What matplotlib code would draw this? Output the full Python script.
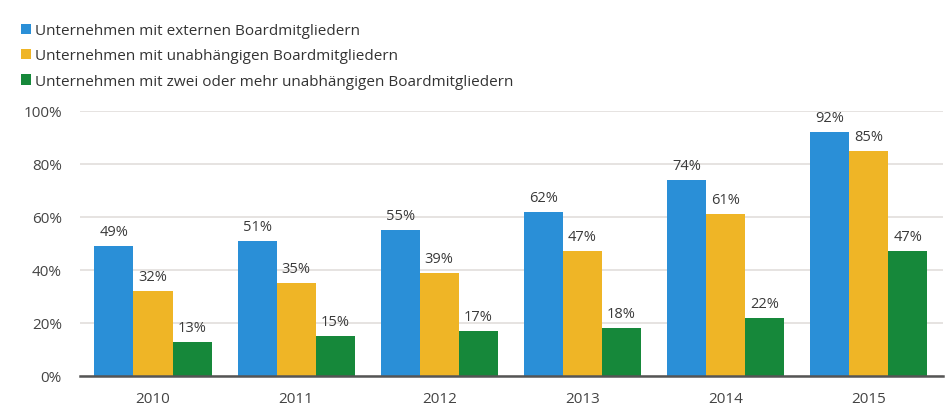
import matplotlib
matplotlib.use('Agg')

import matplotlib.pyplot as plt
import numpy as np

# ---------- DATA ----------
years = ["2010", "2011", "2012", "2013", "2014", "2015"]
extern = [49, 51, 55, 62, 74, 92]
unabh = [32, 35, 39, 47, 61, 85]
zwei_unabh = [13, 15, 17, 18, 22, 47]
series_labels = [
    "Unternehmen mit externen Boardmitgliedern",
    "Unternehmen mit unabhängigen Boardmitgliedern",
    "Unternehmen mit zwei oder mehr unabhängigen Boardmitgliedern",
]

colors = ["#2a8fd7", "#efb526", "#16883a"]

plt.rcParams['font.family'] = ['Open Sans', 'DejaVu Sans']

fig = plt.figure(figsize=(9.49, 4.10), dpi=100)
ax = fig.add_axes([0.0843, 0.0805, 0.9094, 0.6465])

x = np.arange(len(years))
width = 0.273

for i, (vals, color, label) in enumerate(zip([extern, unabh, zwei_unabh], colors, series_labels)):
    pos = x + (i - 1) * width
    ax.bar(pos, vals, width, color=color, label=label, zorder=3)
    for px, v in zip(pos, vals):
        ax.annotate(f"{v}%", (px, v), xytext=(0, 5), textcoords="offset points",
                    ha="center", va="bottom", fontsize=10.5, color="#3a3a3a")

# ---------- AXES ----------
ax.set_xlim(-0.51, 5.52)
ax.set_ylim(0, 100)
ax.set_yticks(range(0, 101, 20))
ax.set_yticklabels([f"{t}%" for t in range(0, 101, 20)])
ax.set_xticks(x)
ax.set_xticklabels(years)
ax.tick_params(axis="both", length=0, labelsize=11, colors="#444444")
ax.tick_params(axis="y", pad=13)
ax.tick_params(axis="x", pad=11)

ax.grid(axis="y", color="#e2dedb", linewidth=1.2, zorder=0)
for side in ["top", "right", "left"]:
    ax.spines[side].set_visible(False)
ax.spines["bottom"].set_color("#555555")
ax.spines["bottom"].set_linewidth(1.8)
ax.spines["bottom"].set_zorder(4)

# ---------- LEGEND ----------
fig.legend(loc="upper left", bbox_to_anchor=(0.008, 0.975), frameon=False,
           fontsize=11, handlelength=0.65, handleheight=0.65, handletextpad=0.25,
           labelspacing=0.68, labelcolor="#333333")

fig.savefig("out.png", dpi=100)
